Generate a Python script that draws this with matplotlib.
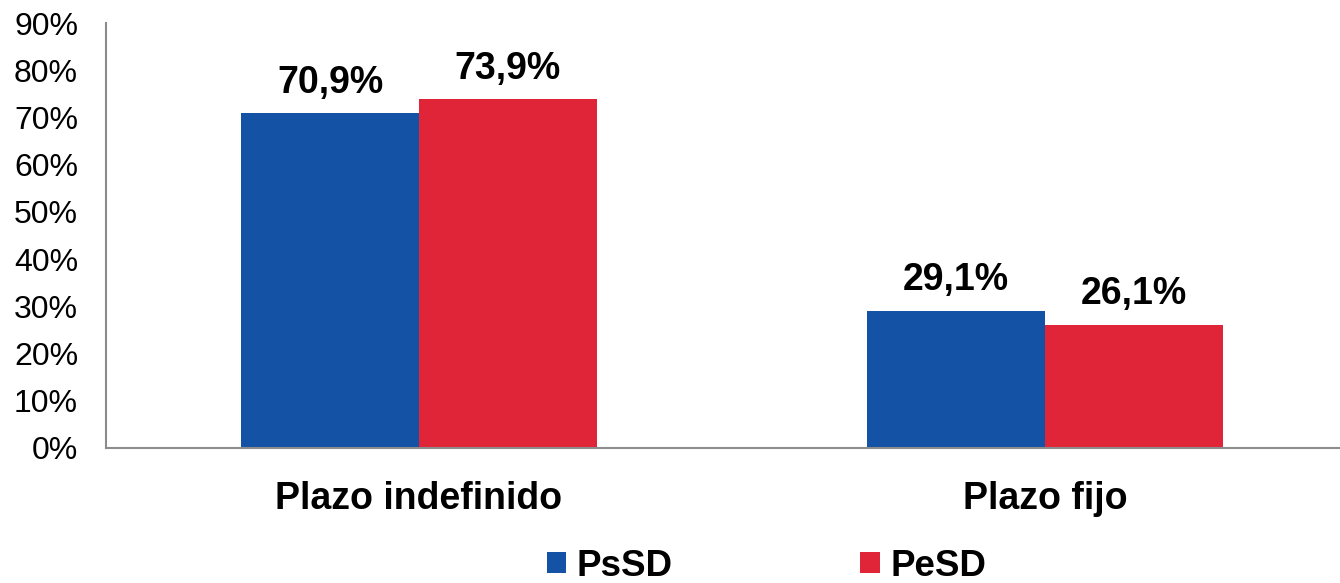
import matplotlib.pyplot as plt
import numpy as np

plt.rcParams['font.family'] = ['Liberation Sans', 'DejaVu Sans']

categories = ["Plazo indefinido", "Plazo fijo"]
series_names = ["PsSD", "PeSD"]
psd_values = [70.9, 29.1]
pesd_values = [73.9, 26.1]
y_ticks = [0, 10, 20, 30, 40, 50, 60, 70, 80, 90]

blue = "#1352A5"
red = "#E12538"

fig = plt.figure(figsize=(13.4, 5.83), dpi=100)
ax = fig.add_axes([0.079, 0.2316, 0.921, 0.7289])

x = np.arange(len(categories))
w = 0.284
b1 = ax.bar(x - w / 2, psd_values, w, color=blue, label=series_names[0])
b2 = ax.bar(x + w / 2, pesd_values, w, color=red, label=series_names[1])

# data labels with comma decimals
for bars in (b1, b2):
    for rect in bars:
        v = rect.get_height()
        ax.annotate(f"{v:.1f}%".replace(".", ","),
                    (rect.get_x() + rect.get_width() / 2, v),
                    xytext=(0, 9), textcoords="offset points",
                    ha="center", va="bottom", fontsize=27, fontweight="bold")

ax.set_xlim(-0.5, 1.471)
ax.set_ylim(0, 90)
ax.set_yticks(y_ticks)
ax.set_yticklabels([f"{t}%" for t in y_ticks], fontsize=23)
ax.set_xticks(x)
ax.set_xticklabels(categories, fontsize=27, fontweight="bold")
ax.tick_params(axis="both", length=0)
ax.tick_params(axis="x", pad=24)
ax.tick_params(axis="y", pad=20)

for s in ("top", "right"):
    ax.spines[s].set_visible(False)
for s in ("left", "bottom"):
    ax.spines[s].set_color("#8c8c8c")
    ax.spines[s].set_linewidth(1.5)

fig.legend(handles=[b1, b2], loc="lower center", bbox_to_anchor=(0.572, -0.058),
           ncol=2, frameon=False, handlelength=0.52, handleheight=0.52,
           handletextpad=0.3, columnspacing=5.1,
           prop={"size": 26.5, "weight": "bold"})

fig.savefig("out.png", dpi=100)
